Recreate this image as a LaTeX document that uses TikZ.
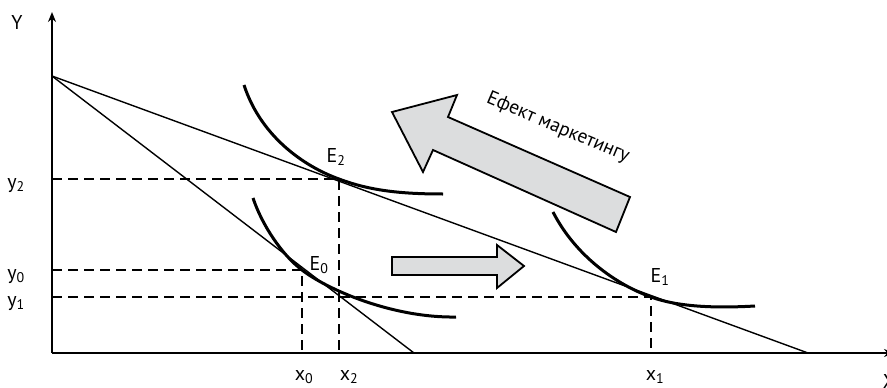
\documentclass[tikz,border=0pt]{standalone}
\usepackage{fontspec}
\setmainfont{PT Sans}
\usetikzlibrary{arrows.meta,calc}
\definecolor{relleno}{HTML}{DCDDDE}
\newcommand{\idx}[2]{#1\textsubscript{#2}}

\begin{document}
\begin{tikzpicture}[font=\fontsize{20}{24}\selectfont, x=1pt, y=-1pt,
    eje/.style={line width=1.8pt, -{Stealth[length=10pt,width=8pt]}},
    presup/.style={line width=1.4pt},
    curva/.style={line width=3pt},
    guia/.style={line width=1.4pt, dash pattern=on 10pt off 6pt},
    flecha/.style={draw, line width=1.8pt, fill=relleno, line join=miter},
    rotulo/.style={anchor=base, inner sep=0pt}]
  \useasboundingbox (0,0) rectangle (887,388);
  % puntos principales
  \coordinate (O) at (52,353);
  \coordinate (A) at (52,76);
  \coordinate (B0) at (414,353);
  \coordinate (B1) at (808,353);
  \coordinate (E0) at (302,270);
  \coordinate (E1) at (651,297);
  \coordinate (E2) at (339,179);
  % ejes
  \draw[eje] (O) -- (52,12);
  \draw[eje] (O) -- (894,353);
  \node[rotulo] (ejeY) at (17,29) {Y};
  \node[rotulo] (ejeX) at (889,388) {X};
  % rectas de presupuesto
  \draw[presup] (A) -- (B0);
  \draw[presup] (A) -- (B1);
  % guias
  \foreach \p in {E0, E1, E2} {
    \draw[guia] (O |- \p) -| (\p |- O);
  }
  \foreach \i in {0, 1, 2} {
    \node[rotulo] (ly\i) at ($(O |- E\i)+(-36,9)$) {\idx{y}{\i}};
  }
  \foreach \i/\xx in {0/304, 2/349, 1/655} {
    \node[rotulo] (lx\i) at (\xx,380) {\idx{x}{\i}};
  }
  % curvas de indiferencia
  \draw[curva] (253,198) .. controls (262,225) and (282,255) .. (E0)
               .. controls (325,288) and (390,318) .. (456,317);
  \draw[curva] (244,85) .. controls (262,140) and (309,168.3) .. (E2)
               .. controls (369,190.4) and (400,194) .. (443,194);
  \draw[curva] (553,212) .. controls (575,255) and (615,284) .. (E1)
               .. controls (680,307.7) and (720,308) .. (755,306);
  \node[rotulo] (lE0) at (319,270) {\idx{E}{0}};
  \node[rotulo] (lE1) at (660,282) {\idx{E}{1}};
  \node[rotulo] (lE2) at (336,162) {\idx{E}{2}};
  % flechas
  \draw[flecha] (392,112) -- (457,95) -- (448,117) -- (630,197) -- (616,232)
                -- (433,150) -- (423,172) -- cycle;
  \draw[flecha] (392,257) -- (497,257) -- (497,245) -- (524,266) -- (497,288)
                -- (497,275) -- (392,275) -- cycle;
  \node[rotate=-23, font=\fontsize{19.5}{23}\selectfont] (efecto) at (558,128)
    {Ефект маркетингу};
\end{tikzpicture}
\end{document}
